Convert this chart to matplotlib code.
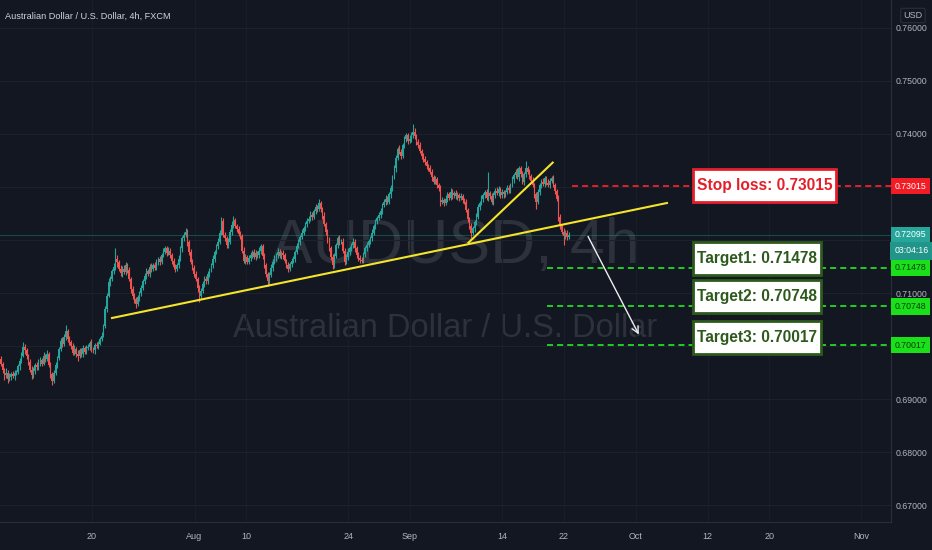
import numpy as np
import matplotlib
matplotlib.use("Agg")
import matplotlib.pyplot as plt
from matplotlib import transforms
from matplotlib.path import Path
from matplotlib.patches import FancyArrowPatch

# AUDUSD 4h candles, prices in pips above 0.70000 (open = previous close)
first_open = -25
closes = [
    -33, -44, -55, -50, -61, -58, -52, -56, -50, -48,
    -38, -27, -18, -1, -8, -18, -30, -44, -55, -46,
    -36, -40, -30, -26, -33, -19, -24, -14, -35, -52,
    -65, -50, -36, -22, -6, 9, 4, 18, 28, 14,
    8, 1, -12, -5, -14, -19, -8, -15, -4, -10,
    -3, -1, 6, -6, -8, 2, 0, 5, 14, 20,
    38, 70, 95, 120, 127, 141, 150, 165, 158, 146,
    138, 146, 140, 152, 144, 127, 108, 95, 88, 80,
    92, 100, 109, 122, 133, 141, 136, 150, 146, 152,
    148, 159, 164, 158, 171, 178, 184, 176, 180, 171,
    160, 150, 146, 152, 165, 184, 203, 210, 216, 196,
    178, 159, 148, 136, 127, 110, 95, 104, 118, 127,
    122, 136, 144, 152, 165, 178, 188, 197, 214, 235,
    210, 203, 190, 197, 215, 228, 237, 227, 220, 212,
    208, 180, 161, 168, 159, 166, 172, 178, 168, 176,
    171, 180, 188, 170, 152, 136, 122, 134, 148, 159,
    166, 172, 178, 170, 176, 171, 160, 152, 146, 154,
    160, 165, 178, 188, 197, 206, 214, 222, 230, 236,
    240, 248, 244, 254, 262, 258, 269, 258, 246, 230,
    216, 200, 184, 168, 152, 170, 190, 203, 196, 197,
    180, 159, 168, 178, 184, 190, 197, 184, 171, 166,
    162, 161, 174, 184, 190, 198, 203, 214, 226, 235,
    242, 248, 254, 266, 272, 278, 272, 286, 297, 318,
    335, 355, 372, 366, 359, 378, 390, 397, 386, 391,
    398, 404, 395, 385, 378, 368, 359, 352, 346, 340,
    335, 329, 318, 310, 314, 304, 297, 272, 276, 270,
    278, 286, 280, 291, 284, 288, 282, 285, 279, 282,
    276, 272, 256, 240, 226, 214, 222, 234, 244, 262,
    270, 278, 284, 290, 280, 288, 282, 272, 285, 293,
    288, 296, 284, 290, 286, 291, 298, 294, 303, 314,
    322, 329, 318, 335, 324, 310, 324, 335, 328, 321,
    312, 303, 286, 272, 290, 303, 310, 306, 316, 308,
    303, 312, 316, 303, 292, 278, 244, 227, 216, 208, 214, 205, 209.5,
]
upper_wicks = [
    6, 4, 3, 8, 5, 7, 4, 6, 5, 3,
    5, 4, 8, 9, 6, 4, 3, 5, 6, 7,
    4, 7, 5, 6, 3, 8, 5, 6, 4, 5,
    3, 5, 6, 4, 5, 7, 8, 5, 11, 4,
    6, 4, 5, 7, 4, 6, 5, 4, 6, 5,
    5, 6, 4, 7, 5, 4, 6, 5, 4, 6,
    4, 6, 5, 8, 6, 5, 7, 19, 6, 5,
    6, 5, 7, 6, 4, 5, 4, 6, 5, 4,
    5, 4, 6, 5, 4, 6, 5, 4, 6, 5,
    6, 5, 4, 6, 5, 7, 5, 4, 6, 5,
    5, 6, 4, 5, 6, 5, 4, 6, 6, 5,
    4, 5, 6, 4, 5, 4, 6, 5, 4, 5,
    5, 6, 4, 5, 6, 4, 5, 6, 5, 9,
    6, 5, 4, 6, 5, 7, 9, 5, 4, 6,
    5, 4, 6, 5, 4, 6, 5, 4, 5, 6,
    4, 6, 5, 4, 6, 5, 4, 5, 6, 5,
    5, 4, 6, 5, 4, 6, 5, 4, 6, 5,
    6, 5, 4, 6, 5, 4, 6, 5, 4, 6,
    5, 6, 4, 5, 6, 4, 9, 5, 4, 6,
    4, 5, 6, 4, 5, 6, 4, 5, 6, 5,
    6, 4, 5, 6, 4, 5, 6, 4, 5, 6,
    5, 6, 4, 5, 6, 4, 5, 6, 4, 5,
    4, 5, 6, 4, 5, 6, 4, 5, 6, 5,
    6, 5, 4, 6, 5, 4, 6, 5, 4, 6,
    5, 15, 6, 4, 5, 6, 4, 5, 6, 4,
    4, 6, 5, 4, 6, 5, 4, 6, 5, 4,
    6, 5, 4, 6, 5, 4, 6, 5, 4, 6,
    5, 4, 6, 5, 4, 6, 5, 4, 6, 5,
    4, 6, 5, 4, 6, 41, 4, 6, 5, 4,
    6, 5, 4, 6, 5, 4, 6, 5, 4, 6,
    5, 4, 6, 5, 4, 6, 5, 13, 4, 6,
    4, 6, 5, 4, 6, 5, 4, 6, 5, 4,
    6, 5, 4, 6, 5, 4, 6, 5, 4, 6, 5, 4, 5,
]
lower_wicks = [
    5, 6, 9, 4, 8, 5, 6, 4, 7, 5,
    4, 6, 5, 3, 7, 6, 5, 4, 6, 4,
    6, 4, 5, 7, 5, 3, 6, 4, 5, 8,
    9, 5, 4, 6, 4, 3, 5, 4, 6, 7,
    5, 6, 4, 5, 7, 8, 4, 6, 5, 4,
    4, 5, 6, 4, 5, 6, 4, 5, 3, 4,
    3, 4, 5, 3, 6, 4, 5, 6, 8, 5,
    5, 7, 4, 5, 6, 5, 8, 6, 7, 9,
    4, 6, 5, 4, 5, 6, 4, 5, 6, 4,
    5, 4, 6, 5, 4, 3, 5, 6, 4, 5,
    6, 4, 7, 5, 4, 5, 6, 4, 5, 8,
    6, 5, 4, 6, 5, 7, 11, 5, 4, 6,
    4, 5, 6, 4, 5, 6, 4, 5, 4, 5,
    5, 4, 6, 5, 4, 5, 6, 5, 4, 5,
    6, 5, 4, 6, 5, 4, 6, 5, 4, 5,
    5, 4, 6, 5, 4, 6, 8, 5, 4, 6,
    4, 6, 5, 4, 5, 6, 4, 5, 6, 4,
    5, 4, 6, 5, 4, 6, 5, 4, 5, 6,
    4, 5, 6, 4, 5, 6, 4, 5, 6, 4,
    6, 5, 4, 6, 7, 5, 4, 6, 5, 4,
    5, 6, 4, 5, 6, 4, 5, 6, 4, 5,
    6, 5, 4, 6, 5, 4, 6, 5, 4, 6,
    5, 4, 6, 5, 4, 6, 5, 4, 6, 5,
    4, 6, 5, 4, 6, 5, 4, 6, 5, 4,
    6, 5, 4, 6, 5, 4, 6, 5, 4, 6,
    5, 4, 6, 5, 4, 6, 5, 8, 4, 6,
    4, 6, 5, 4, 6, 5, 4, 6, 5, 4,
    6, 5, 4, 6, 5, 11, 4, 6, 5, 4,
    5, 4, 6, 5, 4, 6, 5, 4, 6, 5,
    4, 6, 5, 4, 6, 5, 4, 6, 5, 4,
    6, 5, 4, 6, 5, 4, 6, 5, 4, 6,
    5, 4, 6, 13, 5, 6, 5, 4, 6, 5,
    4, 6, 5, 4, 6, 5, 8, 6, 5, 18, 6, 5, 4,
]

start_day = "2020-07-07"
date_ticks = ["2020-07-20", "2020-08-03", "2020-08-10", "2020-08-24", "2020-09-01",
              "2020-09-14", "2020-09-22", "2020-10-01", "2020-10-12", "2020-10-20",
              "2020-11-02"]
date_labels = ["20", "Aug", "10", "24", "Sep", "14", "22", "Oct", "12", "20", "Nov"]
price_ticks = [0.67, 0.68, 0.69, 0.70, 0.71, 0.72, 0.73, 0.74, 0.75, 0.76]
hidden_ticks = [0.70, 0.72, 0.73]   # covered by the price tags on the axis

last_price = 0.72095
countdown = "03:04:16"
stop_loss = 0.73015
targets = [0.71478, 0.70748, 0.70017]
box_texts = ["Stop loss: 0.73015", "Target1: 0.71478", "Target2: 0.70748", "Target3: 0.70017"]

# user drawings (bar index, price)
trend_main_x, trend_main_y = [65.0, 389.5], [0.70531, 0.72697]
trend_short_x, trend_short_y = [273.4, 322.7], [0.71949, 0.73458]
arrow_x, arrow_y = [342.6, 373.8], [0.72113, 0.70173]

BG = "#131722"
UP, DN = "#26a69a", "#ef5350"
TXT = "#b2b5be"
FONT = ["Liberation Sans", "DejaVu Sans"]


def label_box(x0, y0, width, height, mutation_size):
    # rectangle with a small side padding and a tall top/bottom padding
    px, py = 0.25 * mutation_size, 0.58 * mutation_size
    x1, y1 = x0 + width + px, y0 + height + py
    x0, y0 = x0 - px, y0 - py
    return Path([(x0, y0), (x1, y0), (x1, y1), (x0, y1), (x0, y0)], closed=True)


fig = plt.figure(figsize=(9.32, 5.5), dpi=100, facecolor=BG)
ax = fig.add_axes([0, 28 / 550, 891 / 932, 522 / 550])
ax.set_facecolor(BG)
ax.set_xlim(-0.5, 520.5)
ax.set_ylim(0.66689, 0.7652)

# candles
c = 0.70 + np.array(closes) / 1e4
o = np.concatenate([[0.70 + first_open / 1e4], c[:-1]])
hi = np.maximum(o, c) + np.array(upper_wicks) / 1e4
lo = np.minimum(o, c) - np.array(lower_wicks) / 1e4
x = np.arange(len(c))
col = np.where(c >= o, UP, DN)
ax.vlines(x, lo, hi, colors=col, lw=0.8, zorder=3)
ax.bar(x, np.maximum(np.abs(c - o), 0.00004), bottom=np.minimum(o, c), width=0.8,
       color=col, linewidth=0, zorder=3)

# grid + axes
tick_pos = [np.busday_count(start_day, d) * 6 - 0.75 for d in date_ticks]
ax.set_xticks(tick_pos)
ax.set_xticklabels(date_labels, fontfamily=FONT)
ax.set_yticks(price_ticks)
ax.set_yticklabels(["" if p in hidden_ticks else f"{p:.5f}" for p in price_ticks],
                   fontfamily=FONT)
ax.yaxis.tick_right()
ax.tick_params(axis="x", length=0, pad=7.5, labelsize=6.5, labelcolor=TXT)
ax.tick_params(axis="y", length=0, pad=3.5, labelsize=6.3, labelcolor=TXT)
ax.grid(axis="y", color="#1d212c", lw=0.8, zorder=0)
ax.grid(axis="x", color="#191d28", lw=0.8, zorder=0)
for s in ["top", "left"]:
    ax.spines[s].set_visible(False)
for s in ["right", "bottom"]:
    ax.spines[s].set_color("#2a2e39")

# watermark
ax.text(0.5107, 0.4956, "AUDUSD, 4h", transform=ax.transAxes, ha="center", va="baseline",
        fontsize=45, color="#2d313c", fontfamily=FONT, zorder=1)
ax.text(0.4994, 0.355, "Australian Dollar / U.S. Dollar", transform=ax.transAxes,
        ha="center", va="baseline", fontsize=23.5, color="#2d313c", fontfamily=FONT, zorder=1)

# last price line
ax.axhline(last_price, color=UP, lw=0.8, alpha=0.35, zorder=2)

# trend lines and arrow
ax.plot(trend_main_x, trend_main_y, color="#f5e52a", lw=1.5, zorder=5)
ax.plot(trend_short_x, trend_short_y, color="#f5e52a", lw=1.5, zorder=5)
ax.add_patch(FancyArrowPatch((arrow_x[0], arrow_y[0]), (arrow_x[1], arrow_y[1]),
                             arrowstyle="->", mutation_scale=12, color="#eeeeee", lw=1, zorder=5))

# stop / target levels
RED, GREEN = "#e3202a", "#22cc22"
ax.hlines(stop_loss, 334, 520.5, colors=RED, lw=1.4, linestyles=(0, (3.1, 2.1)), zorder=4)
ax.hlines(targets, 319.5, 520.5, colors=GREEN, lw=1.4, linestyles=(0, (3.1, 2.1)), zorder=4)

box_levels = [stop_loss + 0.0002] + [t + d for t, d in zip(targets, [0.00166, 0.00192, 0.00147])]
for i, (txt, lvl) in enumerate(zip(box_texts, box_levels)):
    tc, ec = (RED, RED) if i == 0 else ("#2d5a1c", "#2d5a1c")
    ax.text(407, lvl, txt, ha="left", va="center", fontsize=11.2, fontweight="bold",
            color=tc, fontfamily=FONT, zorder=8,
            bbox=dict(boxstyle=label_box, fc="white", ec=ec, lw=2.0))

# right axis price tags
trans = transforms.blended_transform_factory(ax.transAxes, ax.transData)
tags = [(stop_loss, "#f21c24", "white")] + [(t, "#19e019", "#0d3b0d") for t in targets] + \
       [(last_price, "#26a69a", "white")]
for lvl, fc, tc in tags:
    ax.text(1.0 + 4 / 891, lvl, f"{lvl:.5f}", transform=trans, ha="left", va="center",
            fontsize=6.3, color=tc, fontfamily=FONT, clip_on=False, zorder=10,
            bbox=dict(boxstyle="square,pad=0.42", fc=fc, ec="none"))
ax.annotate(countdown, (1.0 + 4 / 891, last_price), xycoords=trans, xytext=(0, -11.5),
            textcoords="offset points", ha="left", va="center", fontsize=6.3, color="white",
            fontfamily=FONT, annotation_clip=False, zorder=10,
            bbox=dict(boxstyle="square,pad=0.55", fc="#22958b", ec="none"))

# header
fig.text(5 / 932, 1 - 16 / 550, "Australian Dollar / U.S. Dollar, 4h, FXCM", ha="left",
         va="center", fontsize=6.6, color="#d1d4dc", fontfamily=FONT)
fig.text(913 / 932, 1 - 15.5 / 550, "USD", ha="center", va="center", fontsize=6.5,
         color=TXT, fontfamily=FONT,
         bbox=dict(boxstyle="round,pad=0.3,rounding_size=0.2", fc=BG, ec="#2a2e39", lw=0.8))

fig.savefig("out.png", dpi=100, facecolor=BG)
